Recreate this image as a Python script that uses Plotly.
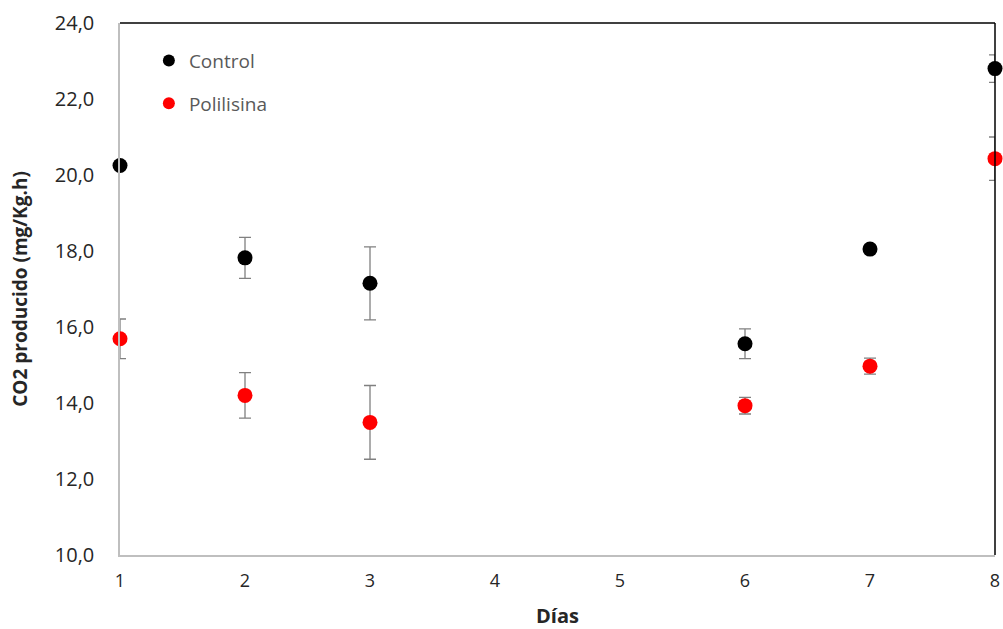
import plotly.graph_objects as go

dias = [1, 2, 3, 6, 7, 8]
control = [20.25, 17.82, 17.15, 15.56, 18.05, 22.80]
control_err = [0.10, 0.54, 0.96, 0.39, 0.10, 0.36]
polilisina = [15.69, 14.20, 13.49, 13.93, 14.97, 20.43]
polilisina_err = [0.52, 0.60, 0.97, 0.22, 0.21, 0.57]

font_family = "Open Sans, Liberation Sans, sans-serif"

fig = go.Figure()
for name, vals, errs, color in [("Control", control, control_err, "#000000"),
                                 ("Polilisina", polilisina, polilisina_err, "#FF0000")]:
    fig.add_trace(go.Scatter(
        x=dias, y=vals, mode="markers", name=name, legendgroup=name,
        marker=dict(color=color, size=15, line=dict(width=0)),
        error_y=dict(type="data", array=errs, visible=True, color="#808080",
                     thickness=1.3, width=6),
        cliponaxis=False,
    ))

fig.update_layout(
    width=1003, height=629,
    margin=dict(l=120, r=8, t=23, b=74, autoexpand=False),
    plot_bgcolor="white", paper_bgcolor="white",
    separators=",.",
    showlegend=True,
    legend=dict(x=0.033, y=0.965, xanchor="left", yanchor="top",
                font=dict(family=font_family, size=19, color="#595959"),
                bgcolor="rgba(0,0,0,0)", itemsizing="constant",
                tracegroupgap=15),
    font=dict(family=font_family, size=17, color="#262626"),
)
fig.update_xaxes(range=[1, 8], dtick=1, tick0=1, showgrid=False, zeroline=False,
                 showline=True, linecolor="#BFBFBF", linewidth=1.5,
                 ticks="", ticklabelstandoff=9, automargin=False,
                 tickfont=dict(family=font_family, size=18, color="#262626"),
                 title=dict(text="<b>Días</b>", font=dict(family=font_family, size=20, color="#262626"),
                            standoff=25))
fig.update_yaxes(range=[10, 24], dtick=2, tickformat=".1f", showgrid=False, zeroline=False,
                 showline=True, linecolor="#BFBFBF", linewidth=1.5,
                 ticks="", ticklabelstandoff=20, automargin=False,
                 tickfont=dict(family=font_family, size=20, color="#262626"),
                 title=dict(text="<b>CO2 producido (mg/Kg.h)</b>",
                            font=dict(family=font_family, size=19, color="#262626"),
                            standoff=22))
# top and right frame lines (dark)
fig.add_shape(type="line", xref="paper", yref="paper", x0=0, x1=1, y0=1, y1=1,
              line=dict(color="#000000", width=1.5))
fig.add_shape(type="line", xref="paper", yref="paper", x0=1, x1=1, y0=0, y1=1,
              line=dict(color="#000000", width=1.5))

fig.write_html("out.html")
